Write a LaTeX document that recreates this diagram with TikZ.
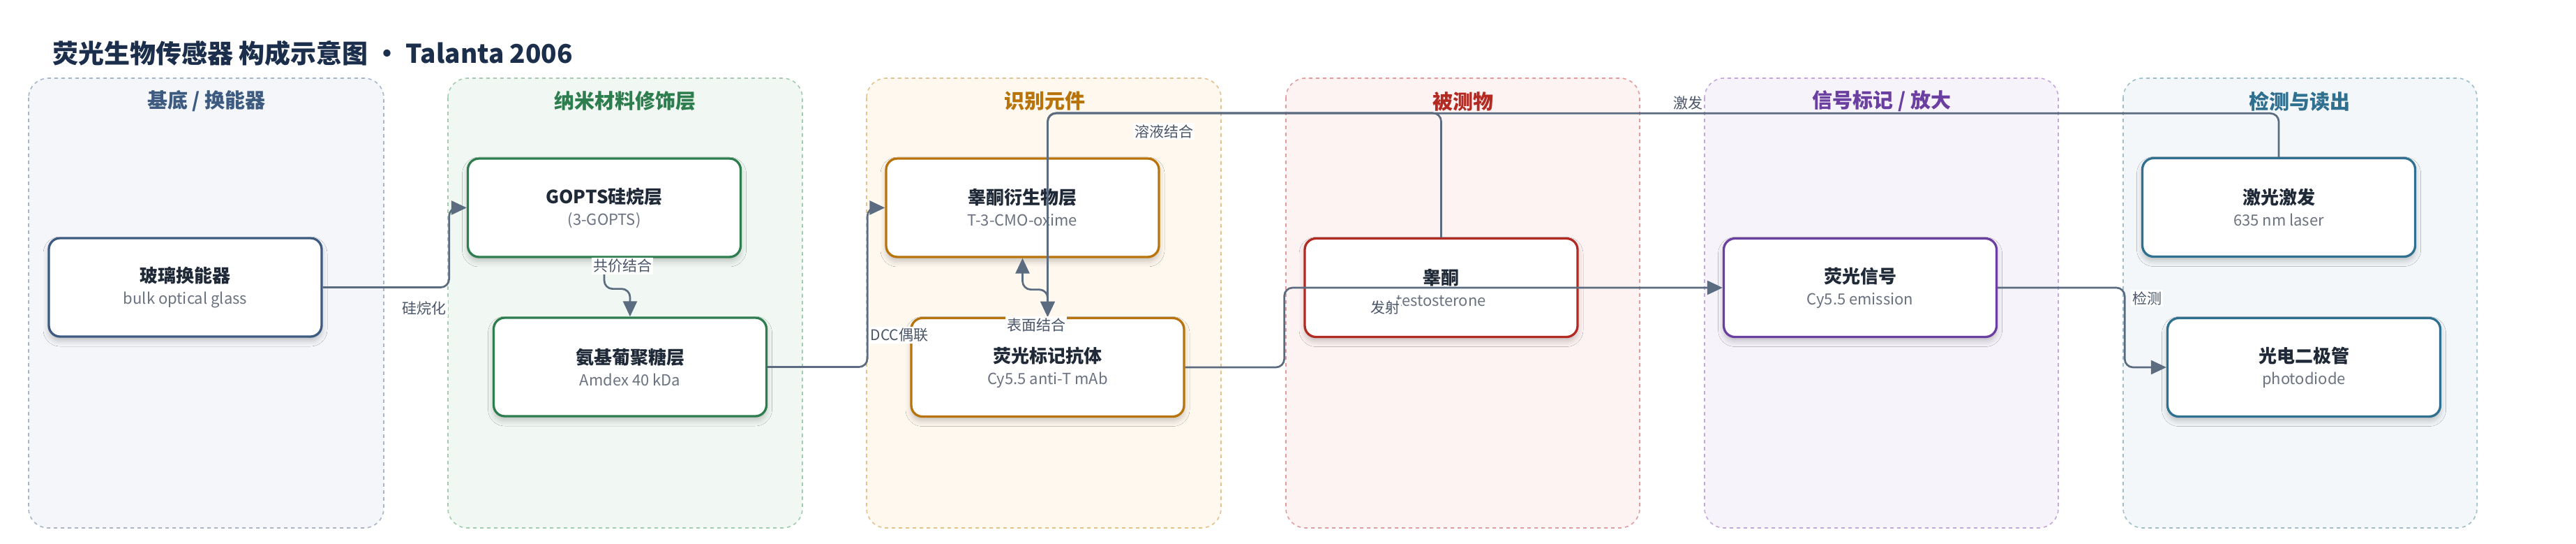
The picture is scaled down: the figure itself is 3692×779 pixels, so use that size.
\documentclass[tikz,border=0pt]{standalone}
\usepackage{fontspec}
\setmainfont{Noto Sans CJK SC}
\usetikzlibrary{arrows.meta,shadows.blur,calc}

\definecolor{titlec}{HTML}{1B2E4B}
\definecolor{edgec}{HTML}{5B6B80}
\definecolor{lblc}{HTML}{4A5568}
\definecolor{btc}{HTML}{1F2937}
\definecolor{bsc}{HTML}{6B7280}
% panel colours: fill, border, accent
\definecolor{pAf}{HTML}{F4F6FA}\definecolor{pAb}{HTML}{A9B6C9}\definecolor{pAc}{HTML}{3D5A80}
\definecolor{pBf}{HTML}{F1F8F3}\definecolor{pBb}{HTML}{A3CDB0}\definecolor{pBc}{HTML}{2E7D4F}
\definecolor{pCf}{HTML}{FEF8EF}\definecolor{pCb}{HTML}{E3C28E}\definecolor{pCc}{HTML}{B8740A}
\definecolor{pDf}{HTML}{FEF3F3}\definecolor{pDb}{HTML}{E39C9C}\definecolor{pDc}{HTML}{B22A22}
\definecolor{pEf}{HTML}{F7F3FB}\definecolor{pEb}{HTML}{C4A8DD}\definecolor{pEc}{HTML}{6B3FA0}
\definecolor{pFf}{HTML}{F3F7F9}\definecolor{pFb}{HTML}{9EC0CC}\definecolor{pFc}{HTML}{2F6F8F}

\newcommand\bt[1]{{\fontsize{13}{15.5}\selectfont\bfseries\color{btc}#1}}
\newcommand\bs[1]{{\fontsize{11}{15.5}\selectfont\color{bsc}#1}}

\begin{document}
\begin{tikzpicture}[x=0.5pt,y=-0.5pt,
  panel/.style 2 args={fill=#1, draw=#2, line width=0.8pt, dash pattern=on 2.5pt off 2.5pt, rounded corners=14pt},
  hdr/.style={font=\fontsize{14.5}{17}\selectfont\bfseries, text=#1},
  box/.style={draw=#1, fill=white, line width=1.65pt, rounded corners=8pt,
    minimum width=195.5pt, minimum height=70.5pt, align=center, inner sep=0pt,
    font=\fontsize{13}{15.5}\selectfont,
    blur shadow={shadow xshift=0pt, shadow yshift=-3pt, shadow blur radius=4pt, shadow opacity=22}},
  edge/.style={draw=edgec, line width=1.35pt, rounded corners=6pt, -{Triangle[length=11pt,width=10pt]}},
  lbl/.style={fill=white, inner sep=1pt, text=lblc, font=\fontsize{10.5}{12}\selectfont}
]
\useasboundingbox (0,0) rectangle (3692,779);
\fill[white] (0,0) rectangle (3692,779);

% title
\node[anchor=west, inner sep=0pt, text=titlec, font=\fontsize{18.5}{22}\selectfont\bfseries] (title) at (75,76) {荧光生物传感器 构成示意图 • Talanta 2006};

% panels
\path[panel={pAf}{pAb}] (41,112) rectangle (550,756);
\path[panel={pBf}{pBb}] (642,112) rectangle (1150,756);
\path[panel={pCf}{pCb}] (1242,112) rectangle (1750,756);
\path[panel={pDf}{pDb}] (1843,112) rectangle (2350,756);
\path[panel={pEf}{pEb}] (2443,112) rectangle (2950,756);
\path[panel={pFf}{pFb}] (3043,112) rectangle (3550,756);

% headers
\node[hdr=pAc] (hA) at (296,145) {基底 / 换能器};
\node[hdr=pBc] (hB) at (896,145) {纳米材料修饰层};
\node[hdr=pCc] (hC) at (1497,145) {识别元件};
\node[hdr=pDc] (hD) at (2097,145) {被测物};
\node[hdr=pEc] (hE) at (2697,145) {信号标记 / 放大};
\node[hdr=pFc] (hF) at (3296,145) {检测与读出};

% boxes
\node[box=pAc] (g) at (265.5,411.5) {\bt{玻璃换能器}\\\bs{bulk optical glass}};
\node[box=pBc] (s) at (866,297.5) {\bt{GOPTS硅烷层}\\\bs{(3-GOPTS)}};
\node[box=pBc] (a) at (903,525.5) {\bt{氨基葡聚糖层}\\\bs{Amdex 40 kDa}};
\node[box=pCc] (d) at (1465.5,297.5) {\bt{睾酮衍生物层}\\\bs{T-3-CMO-oxime}};
\node[box=pCc] (f) at (1501.5,526) {\bt{荧光标记抗体}\\\bs{Cy5.5 anti-T mAb}};
\node[box=pDc] (t) at (2065.5,412) {\bt{睾酮}\\\bs{testosterone}};
\node[box=pEc] (e) at (2666,412) {\bt{荧光信号}\\\bs{Cy5.5 emission}};
\node[box=pFc] (l) at (3266,297) {\bt{激光激发}\\\bs{635 nm laser}};
\node[box=pFc] (p) at (3302,526) {\bt{光电二极管}\\\bs{photodiode}};

% edges
\draw[edge] (g.east) -- ++(181,0) |- (s.west);
\draw[edge] (s.south) -- ++(0,44) -| (a.north);
\draw[edge] (a.east) -- ++(143,0) |- (d.west);
\draw[edge,{Triangle[length=11pt,width=10pt]}-{Triangle[length=11pt,width=10pt]}] (d.south) -- ++(0,45) -| (f.north);
\draw[edge] (t.north) -- ++(0,-178) -| (f.north);
\draw[edge] (l.north) -- ++(0,-62.5) -| (f.north);
\draw[edge] (f.east) -- ++(142,0) |- (e.west);
\draw[edge] (e.east) -- ++(182,0) |- (p.west);

% edge labels
\node[lbl] (l1) at (608,442) {硅烷化};
\node[lbl] (l2) at (892,381) {共价结合};
\node[lbl] (l3) at (1289,480) {DCC偶联};
\node[lbl] (l4) at (1485,465) {表面结合};
\node[lbl] (l5) at (1668,188) {溶液结合};
\node[lbl] (l6) at (2419,148) {激发};
\node[lbl] (l7) at (1985,441) {发射};
\node[lbl] (l8) at (3077,427) {检测};
\end{tikzpicture}
\end{document}
